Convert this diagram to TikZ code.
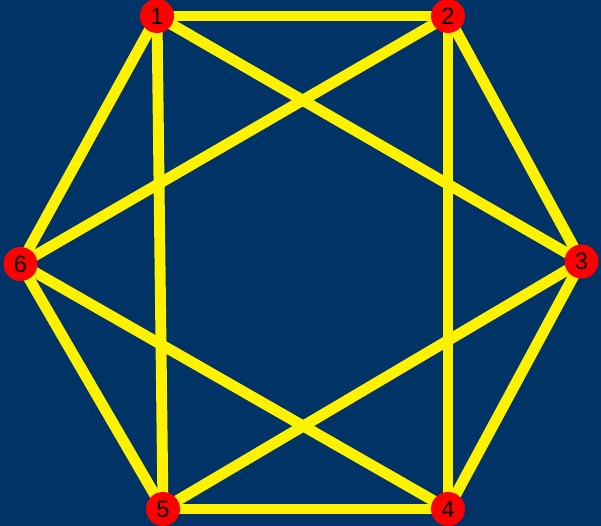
\documentclass[tikz,border=0pt]{standalone}
\usepackage{fontspec}
\setmainfont{Liberation Sans}
\definecolor{bgblue}{RGB}{0,51,102}
\tikzset{
  vertex/.style={circle, fill=red, inner sep=0pt, minimum size=0.68cm, font=\fontsize{13.5}{14}\selectfont},
  edge/.style={yellow, line width=6.2pt}
}
\begin{document}
\begin{tikzpicture}
  \fill[bgblue] (0,0) rectangle (12.02,10.52);
  \useasboundingbox (0,0) rectangle (12.02,10.52);
  \foreach \n/\x/\y in {1/3.14/10.20, 2/8.96/10.20, 3/11.63/5.29,
                        4/8.96/0.34, 5/3.26/0.34, 6/0.41/5.24}
    \coordinate (p\n) at (\x,\y);
  \foreach \a/\b in {1/2, 2/3, 3/4, 4/5, 5/6, 6/1, 1/5, 2/4, 1/3, 2/6, 3/5, 4/6}
    \draw[edge] (p\a) -- (p\b);
  \foreach \n in {1,...,6}
    \node[vertex] (n\n) at (p\n) {\n};
\end{tikzpicture}
\end{document}
